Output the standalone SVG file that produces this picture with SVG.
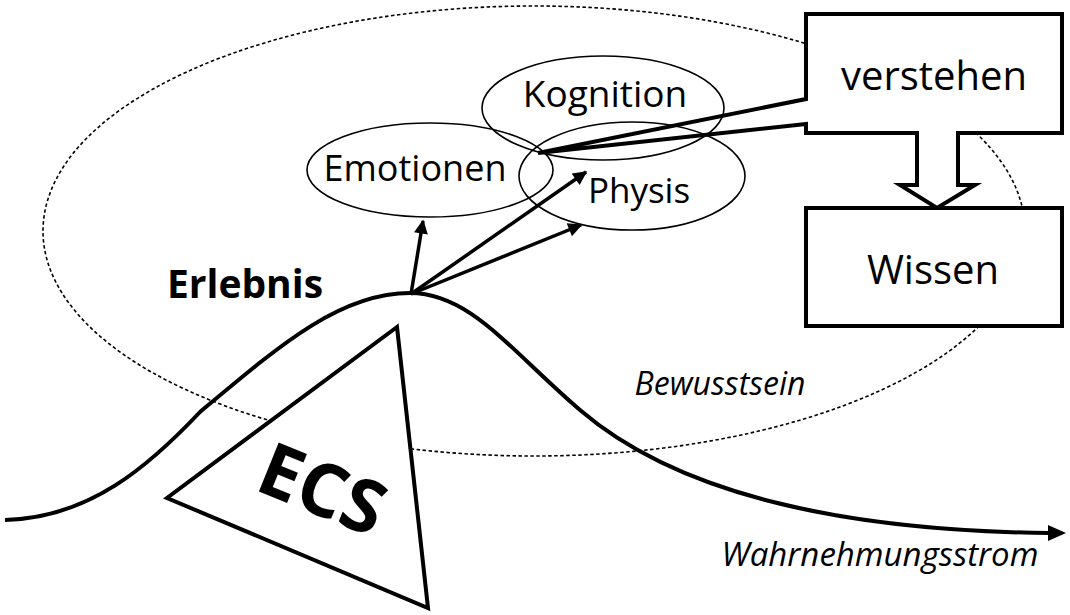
<svg xmlns="http://www.w3.org/2000/svg" width="1070" height="615" viewBox="0 0 1070 615">
<defs>
<style>
.t{font-family:"Open Sans","Noto Sans","Liberation Sans",sans-serif;fill:#000;text-anchor:middle}
.thin{fill:none;stroke:#000;stroke-width:1.6}
.thick{fill:none;stroke:#000;stroke-width:4;stroke-linejoin:miter}
.arr{fill:none;stroke:#000;stroke-width:3.5}
</style>
<marker id="ah" viewBox="0 0 10 10" refX="9" refY="5" markerWidth="4.5" markerHeight="4" orient="auto" markerUnits="strokeWidth">
<path d="M0,0 L10,5 L0,10 Z" fill="#000"/>
</marker>
</defs>
<rect width="1070" height="615" fill="#fff"/>
<g id="bewusstsein">
<ellipse cx="534" cy="231" rx="491" ry="225" fill="none" stroke="#000" stroke-width="1.6" stroke-dasharray="3.5 2.5"/>
<text class="t" x="720" y="395" font-size="32" font-style="italic">Bewusstsein</text>
</g>
<g id="verstehen">
<path class="thick" style="fill:#fff" d="M806,14 H1062 V133 H958 V185 H975 L937,208 L900,185 H917 V133 H806 V124 L538,153 L806,99 Z"/>
<text class="t" x="934" y="90" font-size="40">verstehen</text>
</g>
<g id="wissen">
<rect x="806" y="208" width="256" height="118" fill="#fff" stroke="#000" stroke-width="4"/>
<text class="t" x="933" y="284" font-size="40">Wissen</text>
</g>
<g id="kognition">
<ellipse class="thin" cx="603" cy="108" rx="121" ry="52"/>
<text class="t" x="605" y="107" font-size="37">Kognition</text>
</g>
<g id="emotionen">
<ellipse class="thin" cx="430" cy="170" rx="123" ry="47"/>
<text class="t" x="415" y="181" font-size="36">Emotionen</text>
</g>
<g id="physis">
<ellipse class="thin" cx="632" cy="176" rx="113" ry="54"/>
<text class="t" x="639" y="203" font-size="35">Physis</text>
</g>
<g id="connectors">
<line class="arr" x1="411" y1="294" x2="423" y2="221" marker-end="url(#ah)"/>
<line class="arr" x1="411" y1="294" x2="586" y2="172" marker-end="url(#ah)"/>
<line class="arr" x1="411" y1="294" x2="581" y2="225" marker-end="url(#ah)"/>
</g>
<g id="wahrnehmungsstrom">
<path class="thick" d="M5,520 C90,518 150,465 200,412 C280,345 340,293 410,293 C470,293 510,350 580,410 C680,496 850,531 1050,533"/>
<path d="M1048,525 L1066,533 L1048,541 Z" fill="#000"/>
<text class="t" x="880" y="566" font-size="33" font-style="italic">Wahrnehmungsstrom</text>
</g>
<g id="erlebnis">
<text class="t" x="245" y="298" font-size="39" font-weight="bold">Erlebnis</text>
</g>
<g id="ecs">
<path d="M397,327 L167,498 L428,608 Z" fill="#fff" stroke="#000" stroke-width="4" stroke-linejoin="miter"/>
<text class="t" x="322" y="515" font-size="74" font-weight="bold" transform="rotate(22 322 490)">ECS</text>
</g>
</svg>
